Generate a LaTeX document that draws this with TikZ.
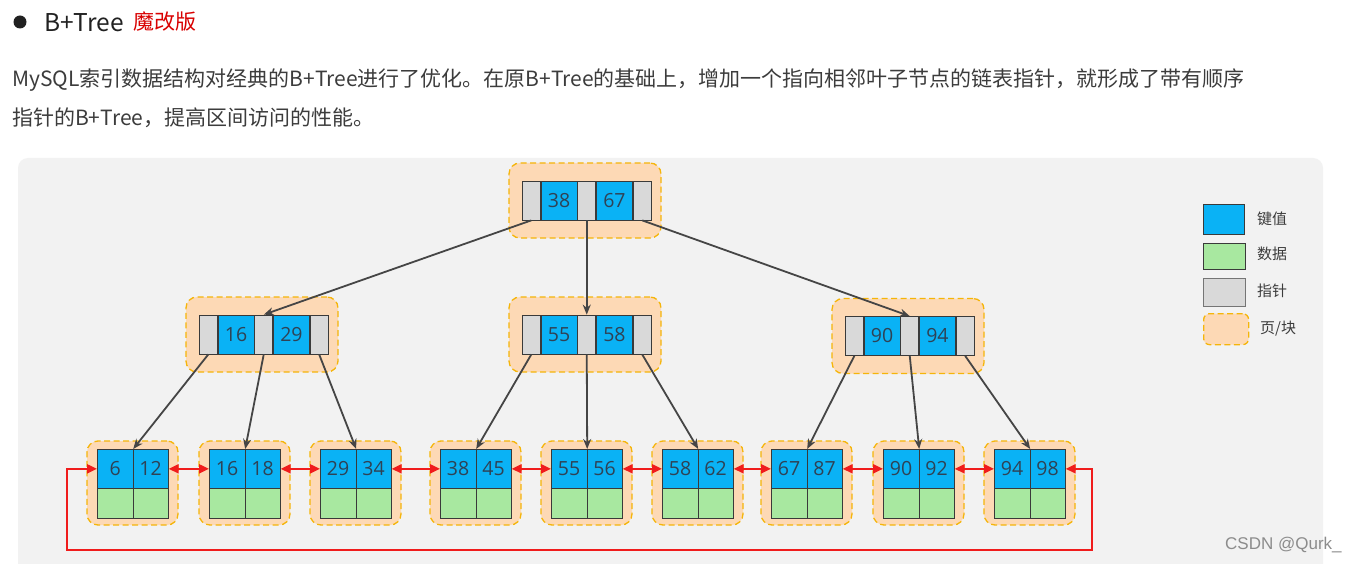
\documentclass[tikz,border=0pt]{standalone}
\usepackage{fontspec}
\setmainfont{Noto Sans CJK SC}
\newfontfamily\wmfont{Liberation Sans}
\newfontfamily\numfont{Open Sans}
\usetikzlibrary{arrows.meta}
\definecolor{keyblue}{HTML}{0AB2F5}
\definecolor{datgreen}{HTML}{A8E8A0}
\definecolor{ptrgray}{HTML}{D9D9D9}
\definecolor{peach}{HTML}{FDD9B5}
\definecolor{pagebd}{HTML}{F5B50A}
\definecolor{panel}{HTML}{F2F2F2}
\definecolor{cellbd}{HTML}{3A3A3A}
\definecolor{numtxt}{HTML}{2F4255}
\definecolor{treeln}{HTML}{454545}
\definecolor{linkred}{HTML}{F01C1C}
\definecolor{bodytxt}{HTML}{3C3C3C}
\tikzset{
  pagebox/.style={draw=pagebd, fill=peach, line width=1.3pt, dash pattern=on 6pt off 3.5pt, rounded corners=11pt, inner sep=0pt},
  cell/.style={draw=cellbd, line width=0.7pt, inner sep=0pt, text=numtxt, font=\numfont\fontsize{19.5}{22}\selectfont},
  keycell/.style={cell, fill=keyblue, minimum height=39pt},
  ptrcell/.style={cell, fill=ptrgray, minimum width=18pt, minimum height=39pt},
  datcell/.style={cell, fill=datgreen, minimum width=35.5pt, minimum height=30pt},
  treearrow/.style={draw=treeln, line width=1.8pt, -{Stealth[length=10pt,width=8pt]}},
  linkarrow/.style={draw=linkred, line width=2.2pt, {Triangle[length=10pt,width=9pt]}-{Triangle[length=10pt,width=9pt]}},
  legtxt/.style={anchor=west, text=bodytxt, font=\fontsize{15}{18}\selectfont, inner sep=0pt},
}
\newcommand{\innode}[5]{%
  \node[pagebox, minimum width=152pt, minimum height=75pt] (#1) at (#2+63, #3) {};
  \node[ptrcell, anchor=west] (#1-p1) at (#2, #3) {};
  \node[keycell, minimum width=36pt, anchor=west] (#1-k1) at (#1-p1.east) {#4};
  \node[ptrcell, anchor=west] (#1-p2) at (#1-k1.east) {};
  \node[keycell, minimum width=36pt, anchor=west] (#1-k2) at (#1-p2.east) {#5};
  \node[ptrcell, anchor=west] (#1-p3) at (#1-k2.east) {};
}
% name, xleft, ytop, k1, k2
\newcommand{\leafnode}[5]{%
  \node[pagebox, minimum width=91pt, minimum height=84pt] (#1) at (#2+35.5, #3+34) {};
  \node[keycell, minimum width=35.5pt, anchor=north west] (#1-k1) at (#2, #3) {#4};
  \node[keycell, minimum width=35.5pt, anchor=north west] (#1-k2) at (#2+35.5, #3) {#5};
  \node[datcell, anchor=north west] (#1-d1) at (#2, #3+39) {};
  \node[datcell, anchor=north west] (#1-d2) at (#2+35.5, #3+39) {};
}
\begin{document}
\begin{tikzpicture}[x=1pt, y=-1pt]
\useasboundingbox (0,0) rectangle (1362,564);
\fill[white] (0,0) rectangle (1362,564);
\fill[panel, rounded corners=10pt] (18,158) rectangle (1323,590);

% title
\fill[black!87] (20,22) circle (6.5pt);
\node[anchor=west, inner sep=0pt, text=black!87, font=\fontsize{24.5}{28}\selectfont] (title) at (44,23) {B+Tree};
\node[anchor=west, inner sep=0pt, text=red!85!black, font=\fontsize{21}{24}\selectfont] (tag) at (133,22) {魔改版};
\node[anchor=west, inner sep=0pt, text=bodytxt, font=\fontsize{21}{24}\selectfont] (line1) at (12,80) {MySQL索引数据结构对经典的B+Tree进行了优化。在原B+Tree的基础上，增加一个指向相邻叶子节点的链表指针，就形成了带有顺序};
\node[anchor=west, inner sep=0pt, text=bodytxt, font=\fontsize{21}{24}\selectfont] (line2) at (12,118) {指针的B+Tree，提高区间访问的性能。};

% internal nodes
\innode{root}{522}{200.5}{38}{67}
\innode{ml}{199}{334.5}{16}{29}
\innode{mc}{522}{334.5}{55}{58}
\innode{mr}{845}{336}{90}{94}

% leaves
\leafnode{la}{97}{449}{6}{12}
\leafnode{lb}{209}{449}{16}{18}
\leafnode{lc}{320}{449}{29}{34}
\leafnode{ld}{440}{449}{38}{45}
\leafnode{le}{551}{449}{55}{56}
\leafnode{lf}{662}{449}{58}{62}
\leafnode{lg}{771}{449}{67}{87}
\leafnode{lh}{883}{449}{90}{92}
\leafnode{li}{994}{449}{94}{98}

% tree arrows
\draw[treearrow] (root-p1.south) -- (ml-p2.north);
\draw[treearrow] (root-p2.south) -- (mc-p2.north);
\draw[treearrow] (root-p3.south) -- (mr-p2.north);
\draw[treearrow] (ml-p1.south) -- (la-k1.north east);
\draw[treearrow] (ml-p2.south) -- (lb-k1.north east);
\draw[treearrow] (ml-p3.south) -- (lc-k1.north east);
\draw[treearrow] (mc-p1.south) -- (ld-k1.north east);
\draw[treearrow] (mc-p2.south) -- (le-k1.north east);
\draw[treearrow] (mc-p3.south) -- (lf-k1.north east);
\draw[treearrow] (mr-p1.south) -- (lg-k1.north east);
\draw[treearrow] (mr-p2.south) -- (lh-k1.north east);
\draw[treearrow] (mr-p3.south) -- (li-k1.north east);

% leaf links
\draw[linkarrow] (la-k2.east) -- (lb-k1.west);
\draw[linkarrow] (lb-k2.east) -- (lc-k1.west);
\draw[linkarrow] (lc-k2.east) -- (ld-k1.west);
\draw[linkarrow] (ld-k2.east) -- (le-k1.west);
\draw[linkarrow] (le-k2.east) -- (lf-k1.west);
\draw[linkarrow] (lf-k2.east) -- (lg-k1.west);
\draw[linkarrow] (lg-k2.east) -- (lh-k1.west);
\draw[linkarrow] (lh-k2.east) -- (li-k1.west);
\coordinate (loopR) at (1092,550);
\coordinate (loopL) at (67,550);
\draw[linkarrow] (li-k2.east) -| (loopR) -- (loopL) |- (la-k1.west);

% legend
\node[draw=cellbd, line width=0.7pt, fill=keyblue, minimum width=41pt, minimum height=30pt, anchor=north west] (lgk) at (1203,204) {};
\node[legtxt] (lgkt) at (1257,219) {键值};
\node[draw=cellbd, line width=0.7pt, fill=datgreen, minimum width=42pt, minimum height=26pt, anchor=north west] (lgd) at (1203,243) {};
\node[legtxt] (lgdt) at (1257,254) {数据};
\node[draw=cellbd!70, line width=0.7pt, fill=ptrgray, minimum width=42pt, minimum height=28pt, anchor=north west] (lgp) at (1203,278) {};
\node[legtxt] (lgpt) at (1257,291) {指针};
\node[pagebox, rounded corners=6pt, minimum width=45pt, minimum height=31pt, anchor=north west] (lgb) at (1203,313) {};
\node[legtxt] (lgbt) at (1260,329) {页/块};

% watermark
\node[anchor=west, inner sep=0pt, text=black!45, font=\wmfont\fontsize{17}{20}\selectfont] (wm) at (1225,545) {CSDN @Qurk\_};
\end{tikzpicture}
\end{document}
